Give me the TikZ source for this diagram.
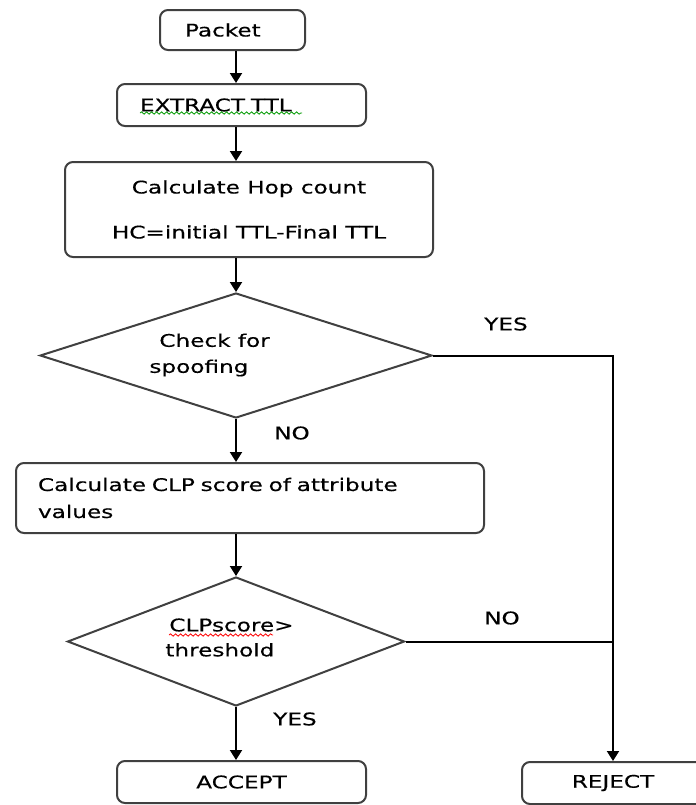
\documentclass[tikz,border=0pt]{standalone}
\usepackage{fontspec}
\setmainfont{DejaVu Sans}[FakeStretch=1.33, FakeBold=0.4]
\usetikzlibrary{arrows.meta,shapes.geometric,decorations.pathmorphing}

\begin{document}
\begin{tikzpicture}[x=0.5pt, y=-0.5pt,
  box/.style={draw=black!75, line width=1pt, rounded corners=4pt, inner sep=0pt, font=\fontsize{8.7}{10}\selectfont},
  decision/.style={draw=black!75, line width=1pt, diamond, aspect=3, inner sep=0pt},
  txt/.style={font=\fontsize{8.7}{10}\selectfont, inner sep=0pt},
  flow/.style={line width=1pt, -{Triangle[length=5pt,width=6pt]}},
  squiggle/.style={line width=0.4pt, decorate, decoration={snake, amplitude=0.6pt, segment length=2.5pt}}]
\useasboundingbox (0,0) rectangle (696,805);

% Colonne principale
\coordinate (spine) at (236,0);

% Boîtes
\node[box, minimum height=20pt, text width=47.5pt, inner xsep=12.5pt, align=left] (packet) at (232.5,30) {Packet};
\node[box, minimum height=21pt, text width=101.5pt, inner xsep=11.5pt, align=left] (extract) at (241.5,105) {EXTRACT TTL};
\node[box, minimum width=184pt, minimum height=47.5pt, align=center, font=\fontsize{8.7}{22.5}\selectfont] (hop) at (249,209.5) {Calculate Hop count\\HC=initial TTL-Final TTL};
\node[box, minimum height=35pt, text width=212pt, inner xsep=11pt, align=left, font=\fontsize{8.7}{13.5}\selectfont] (clp) at (250,498) {Calculate CLP score of attribute\\values};
\node[box, minimum width=124.5pt, minimum height=21pt] (accept) at (241.5,782) {ACCEPT};
\node[box, minimum width=91pt, minimum height=21pt] (reject) at (613,783) {REJECT};

% Losanges
\node[decision, minimum width=196pt, minimum height=62.5pt] (spoof) at (236,355.5) {};
\node[txt, align=left, anchor=west, font=\fontsize{8.7}{13}\selectfont] (spooftext) at (149,355) {\hspace*{5pt}Check for\\spoofing};
\node[decision, minimum width=168.5pt, minimum height=64.5pt] (score) at (236,641.5) {};
\node[txt, align=left, anchor=west, font=\fontsize{8.7}{12.5}\selectfont] (scoretext) at (165,637.5) {\hspace*{2pt}CLPscore>\\threshold};

% Labels
\node[txt] (yes1) at (506,324) {YES};
\node[txt] (no1) at (292,433) {NO};
\node[txt] (no2) at (502,618) {NO};
\node[txt] (yes2) at (295,719) {YES};

% Flèches
\draw[flow] (packet.south -| spine) -- (extract.north -| spine);
\draw[flow] (extract.south -| spine) -- (hop.north -| spine);
\draw[flow] (hop.south -| spine) -- (spoof.north);
\draw[flow] (spoof.south) -- (clp.north -| spine);
\draw[flow] (clp.south -| spine) -- (score.north);
\draw[flow] (score.south) -- (accept.north -| spine);
\draw[flow] (spoof.east) -- (spoof.east -| reject.north) -- (reject.north);
\draw[line width=1pt] (score.east) -- (score.east -| reject.north);

% Soulignements
\draw[squiggle, green!60!black] (140,113) -- (302,113);
\draw[squiggle, red] (169,635) -- (273,635);
\end{tikzpicture}
\end{document}
